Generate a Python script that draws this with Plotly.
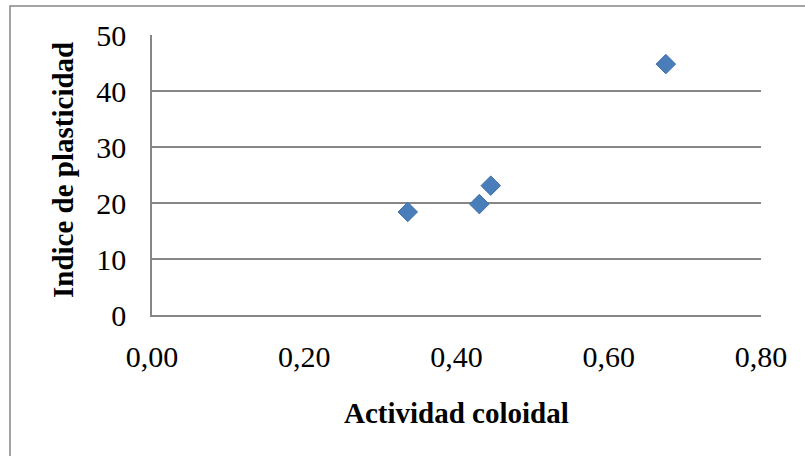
import plotly.graph_objects as go

actividad = [0.336, 0.430, 0.445, 0.675]
indice = [18.4, 19.8, 23.1, 44.8]
x_ticks = [0.0, 0.2, 0.4, 0.6, 0.8]
y_ticks = [0, 10, 20, 30, 40, 50]

W, H = 805, 456
L, R, T, B = 152, 44, 35, 141
pw, ph = W - L - R, H - T - B

def px(xp):
    return (xp - L) / pw

def py(yp):
    return (H - B - yp) / ph

fig = go.Figure()
fig.add_trace(go.Scatter(
    x=actividad, y=indice, mode="markers",
    marker=dict(symbol="diamond", size=15, color="#4A7EBB",
                line=dict(color="#3F6FA8", width=1)),
    showlegend=False, cliponaxis=False,
))

serif = "Liberation Serif, Times New Roman, serif"
fig.update_layout(
    width=W, height=H,
    margin=dict(l=L, r=R, t=T, b=B, pad=0),
    paper_bgcolor="white", plot_bgcolor="white",
    separators=",.",
    font=dict(family=serif, color="black"),
    xaxis=dict(range=[0, 0.8], tickvals=x_ticks, tickformat=".2f",
               showgrid=False, zeroline=False, showline=True,
               linecolor="#868686", linewidth=1.5,
               ticks="outside", ticklen=0, tickcolor="white",
               ticklabelstandoff=14,
               tickfont=dict(size=30, family=serif, color="black")),
    yaxis=dict(range=[0, 50], tickvals=y_ticks,
               showgrid=True, gridcolor="#868686", gridwidth=1.5,
               zeroline=False, showline=True,
               linecolor="#868686", linewidth=1.5,
               ticks="outside", ticklen=0, tickcolor="white",
               ticklabelstandoff=18,
               tickfont=dict(size=30, family=serif, color="black")),
    annotations=[
        dict(text="<b>Actividad coloidal</b>", xref="paper", yref="paper",
             x=px(456), y=py(413), xanchor="center", yanchor="middle",
             showarrow=False, font=dict(size=29, family=serif, color="black")),
        dict(text="<b>Indice de plasticidad</b>", xref="paper", yref="paper",
             x=px(63), y=py(170), xanchor="center", yanchor="middle",
             textangle=-90, showarrow=False,
             font=dict(size=29, family=serif, color="black")),
    ],
    shapes=[
        dict(type="rect", xref="paper", yref="paper",
             x0=px(10), x1=px(812), y0=py(464), y1=py(6),
             line=dict(color="#868686", width=1.5), fillcolor="rgba(0,0,0,0)",
             layer="below"),
    ],
)

fig.write_html("out.html")
